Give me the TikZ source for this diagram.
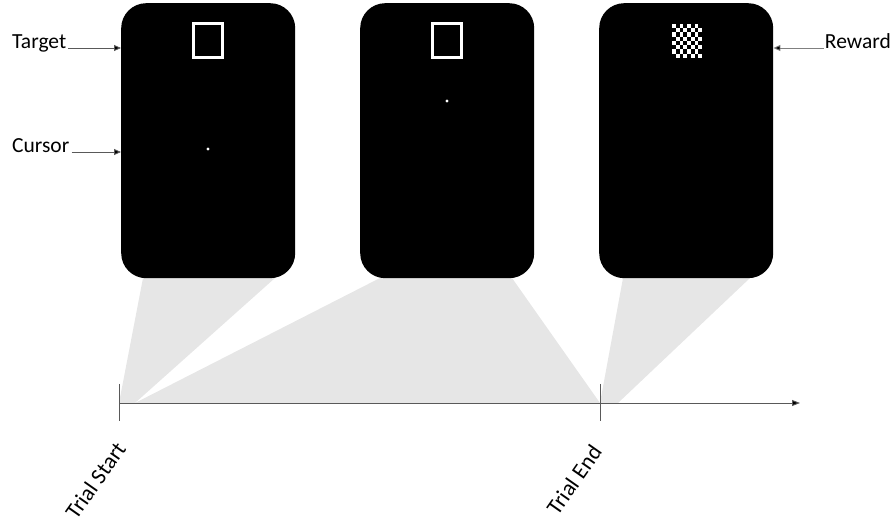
\documentclass[tikz,border=0pt]{standalone}
\usepackage{fontspec}
\setmainfont{Carlito}
\usetikzlibrary{arrows.meta}
\definecolor{fan}{HTML}{E6E6E6}
\definecolor{axisgray}{HTML}{595959}
\begin{document}
\begin{tikzpicture}[x=1pt,y=-1pt,
  panel/.style={fill=black, rounded corners=25pt, minimum width=174pt, minimum height=275pt, anchor=north west, inner sep=0pt},
  fanshape/.style={fill=fan},
  lbl/.style={font=\fontsize{21.5}{25}\selectfont, inner sep=0pt},
  ptr/.style={draw=axisgray, line width=0.9pt, -{Triangle[length=7pt,width=6pt,fill=black]}},
  axisline/.style={draw=axisgray, line width=0.9pt},
  targetbox/.style={draw=white, line width=3pt},
  cursordot/.style={fill=white, circle, inner sep=0pt, minimum size=3.2pt}
]
\useasboundingbox (0,0) rectangle (892,521);

% timeline coordinates
\coordinate (ts) at (119,403);
\coordinate (te) at (600,403);
\coordinate (tarrow) at (800,403);

% gray fans
\fill[fanshape] (143,278) -- (275,278) -- (135,403) -- (119,403) -- cycle;
\fill[fanshape] (380,278) -- (512,278) -- (600,403) -- (135,403) -- cycle;
\fill[fanshape] (623,278) -- (750,278) -- (618,403) -- (600,403) -- cycle;

% panels
\node[panel] (p1) at (121,3) {};
\node[panel] (p2) at (360,3) {};
\node[panel] (p3) at (599,3) {};

% targets
\draw[targetbox] (193.5,23.5) rectangle (222.5,57.5);
\draw[targetbox] (432.5,23.5) rectangle (461.5,57.5);

% cursors
\node[cursordot] (c1) at (208,149) {};
\node[cursordot] (c2) at (447,101) {};

% reward checkerboard
\foreach \i in {0,...,7}{
  \foreach \j in {0,...,7}{
    \pgfmathtruncatemacro{\cpar}{mod(\i+\j,2)}
    \ifnum\cpar=0
      \fill[white] ({672+\i*3.75},{24+\j*4.25}) rectangle ++(3.75,4.25);
    \fi
  }
}

% labels with pointers
\node[lbl, anchor=base west] (tgt) at (12,49) {Target};
\node[lbl, anchor=base west] (cur) at (12,153) {Cursor};
\node[lbl, anchor=base east] (rew) at (891,49) {Reward};
\draw[ptr] ([xshift=2pt,yshift=1pt]tgt.base east) -- ([yshift=1pt]tgt.base east -| p1.west);
\draw[ptr] ([xshift=2pt,yshift=1pt]cur.base east) -- ([yshift=1pt]cur.base east -| p1.west);
\draw[ptr, draw=gray] ([xshift=-1pt,yshift=1pt]rew.base west) -- ([yshift=1pt]rew.base west -| p3.east);

% timeline
\draw[axisline, -{Triangle[length=8pt,width=6pt,fill=black]}] (ts) -- (tarrow);
\draw[axisline] ([yshift=19pt]ts) -- ([yshift=-18pt]ts);
\draw[axisline] ([yshift=19pt]te) -- ([yshift=-18pt]te);

% rotated labels
\node[lbl, font=\fontsize{22.5}{26}\selectfont, rotate=55, anchor=north east] (tstart) at (114,440) {Trial Start};
\node[lbl, font=\fontsize{22.5}{26}\selectfont, rotate=55, anchor=north east] (tend) at (590,443) {Trial End};
\end{tikzpicture}
\end{document}
